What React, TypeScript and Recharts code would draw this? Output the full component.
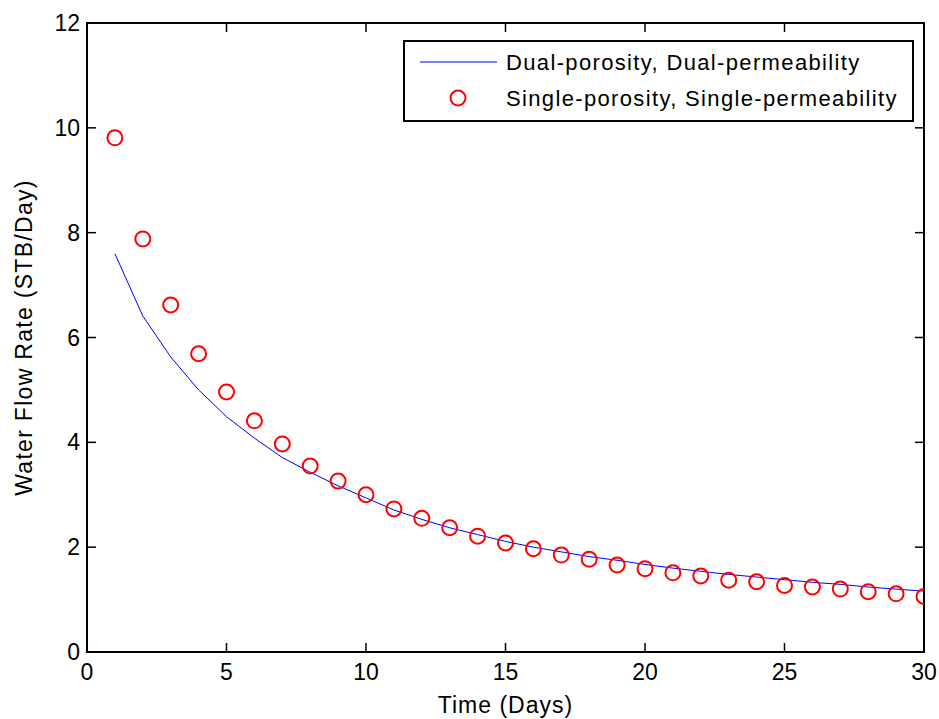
import React from 'react';
import { ComposedChart, Line, XAxis, YAxis, ReferenceArea } from 'recharts';

const days = [1, 2, 3, 4, 5, 6, 7, 8, 9, 10, 11, 12, 13, 14, 15, 16, 17, 18, 19, 20, 21, 22, 23, 24, 25, 26, 27, 28, 29, 30];
const dualRates = [7.60, 6.41, 5.63, 5.00, 4.49, 4.08, 3.71, 3.43, 3.17, 2.94, 2.71, 2.53, 2.37, 2.24, 2.11, 2.00, 1.91, 1.82, 1.75, 1.67, 1.60, 1.54, 1.48, 1.43, 1.38, 1.33, 1.29, 1.24, 1.20, 1.16];
const singleRates = [9.81, 7.88, 6.62, 5.69, 4.96, 4.41, 3.97, 3.55, 3.26, 3.00, 2.73, 2.55, 2.37, 2.21, 2.08, 1.97, 1.85, 1.77, 1.66, 1.59, 1.51, 1.45, 1.37, 1.34, 1.27, 1.24, 1.20, 1.15, 1.11, 1.06];
const xTicks = [0, 5, 10, 15, 20, 25, 30];
const yTicks = [0, 2, 4, 6, 8, 10, 12];
const seriesNames = ['Dual-porosity, Dual-permeability', 'Single-porosity, Single-permeability'];
const xTitle = 'Time (Days)';
const yTitle = 'Water Flow Rate (STB/Day)';

const data = days.map((d, i) => ({ day: d, dual: dualRates[i], single: singleRates[i] }));

const W = 939;
const H = 719;
const MARGIN = { top: 23, right: 15, bottom: 0, left: 0 };
const PLOT_TOP = MARGIN.top;
const PLOT_RIGHT = W - MARGIN.right;
const TICK_LEN = 9;
const FONT = '"Liberation Sans", Arial, sans-serif';

const XTick = (props: any) => {
  const { x, y, payload } = props;
  return (
    <g>
      <line x1={x} y1={y} x2={x} y2={y - TICK_LEN} stroke="#000" strokeWidth={1.5} />
      <line x1={x} y1={PLOT_TOP} x2={x} y2={PLOT_TOP + TICK_LEN} stroke="#000" strokeWidth={1.5} />
      <text x={x} y={y + 28} textAnchor="middle" fontFamily={FONT} fontSize={23} fill="#000">
        {payload.value}
      </text>
    </g>
  );
};

const YTick = (props: any) => {
  const { x, y, payload } = props;
  return (
    <g>
      <line x1={x} y1={y} x2={x + TICK_LEN} y2={y} stroke="#000" strokeWidth={1.5} />
      <line x1={PLOT_RIGHT - TICK_LEN} y1={y} x2={PLOT_RIGHT} y2={y} stroke="#000" strokeWidth={1.5} />
      <text x={x - 7} y={y + 8} textAnchor="end" fontFamily={FONT} fontSize={23} fill="#000">
        {payload.value}
      </text>
    </g>
  );
};

const XTitle = (props: any) => {
  const vb = props.viewBox || {};
  return (
    <text x={vb.x + vb.width / 2} y={vb.y + 61} textAnchor="middle" fontFamily={FONT} fontSize={23} letterSpacing={1} fill="#000">
      {xTitle}
    </text>
  );
};

const YTitle = (props: any) => {
  const vb = props.viewBox || {};
  const cx = 24;
  const cy = vb.y + vb.height / 2;
  return (
    <text x={cx} y={cy} transform={`rotate(-90 ${cx} ${cy})`} textAnchor="middle" dominantBaseline="central" fontFamily={FONT} fontSize={23} letterSpacing={1.3} fill="#000">
      {yTitle}
    </text>
  );
};

const LegendBox = () => (
  <svg width={511} height={82} style={{ display: 'block' }}>
    <rect x={1} y={1} width={509} height={80} fill="#fff" stroke="#000" strokeWidth={2} />
    <line x1={17} y1={22} x2={94} y2={22} stroke="#0000ff" strokeWidth={1} />
    <circle cx={55} cy={58} r={7.5} fill="none" stroke="#ff0000" strokeWidth={2} />
    <text x={103} y={22} dominantBaseline="central" fontFamily={FONT} fontSize={22} letterSpacing={1.35} fill="#000">
      {seriesNames[0]}
    </text>
    <text x={103} y={58} dominantBaseline="central" fontFamily={FONT} fontSize={22} letterSpacing={1.35} fill="#000">
      {seriesNames[1]}
    </text>
  </svg>
);

export default function App() {
  return (
    <div style={{ position: 'absolute', left: 0, top: 0, width: W, height: H, background: '#fff' }}>
      <ComposedChart width={W} height={H} data={data} margin={MARGIN}>
        <ReferenceArea x1={0} x2={30} y1={0} y2={12} fill="none" stroke="#000" strokeWidth={2} ifOverflow="visible" />
        <XAxis
          type="number"
          dataKey="day"
          domain={[0, 30]}
          ticks={xTicks}
          height={67}
          tickLine={false}
          tickSize={0}
          tickMargin={0}
          axisLine={{ stroke: '#000', strokeWidth: 2 }}
          tick={<XTick />}
          interval={0}
          allowDataOverflow
          label={{ content: <XTitle /> } as any}
        />
        <YAxis
          type="number"
          domain={[0, 12]}
          ticks={yTicks}
          width={87}
          tickLine={false}
          tickSize={0}
          tickMargin={0}
          axisLine={{ stroke: '#000', strokeWidth: 2 }}
          tick={<YTick />}
          interval={0}
          allowDataOverflow
          label={{ content: <YTitle /> } as any}
        />
        <Line
          type="linear"
          dataKey="dual"
          name={seriesNames[0]}
          stroke="#0000ff"
          strokeWidth={1}
          dot={false}
          activeDot={false}
          isAnimationActive={false}
        />
        <Line
          type="linear"
          dataKey="single"
          name={seriesNames[1]}
          stroke="none"
          strokeWidth={0}
          dot={{ r: 7.5, stroke: '#ff0000', strokeWidth: 2, fill: 'none' }}
          activeDot={false}
          isAnimationActive={false}
        />
      </ComposedChart>
      <div style={{ position: 'absolute', left: 403, top: 40, width: 511, height: 82 }}>
        <LegendBox />
      </div>
    </div>
  );
}
